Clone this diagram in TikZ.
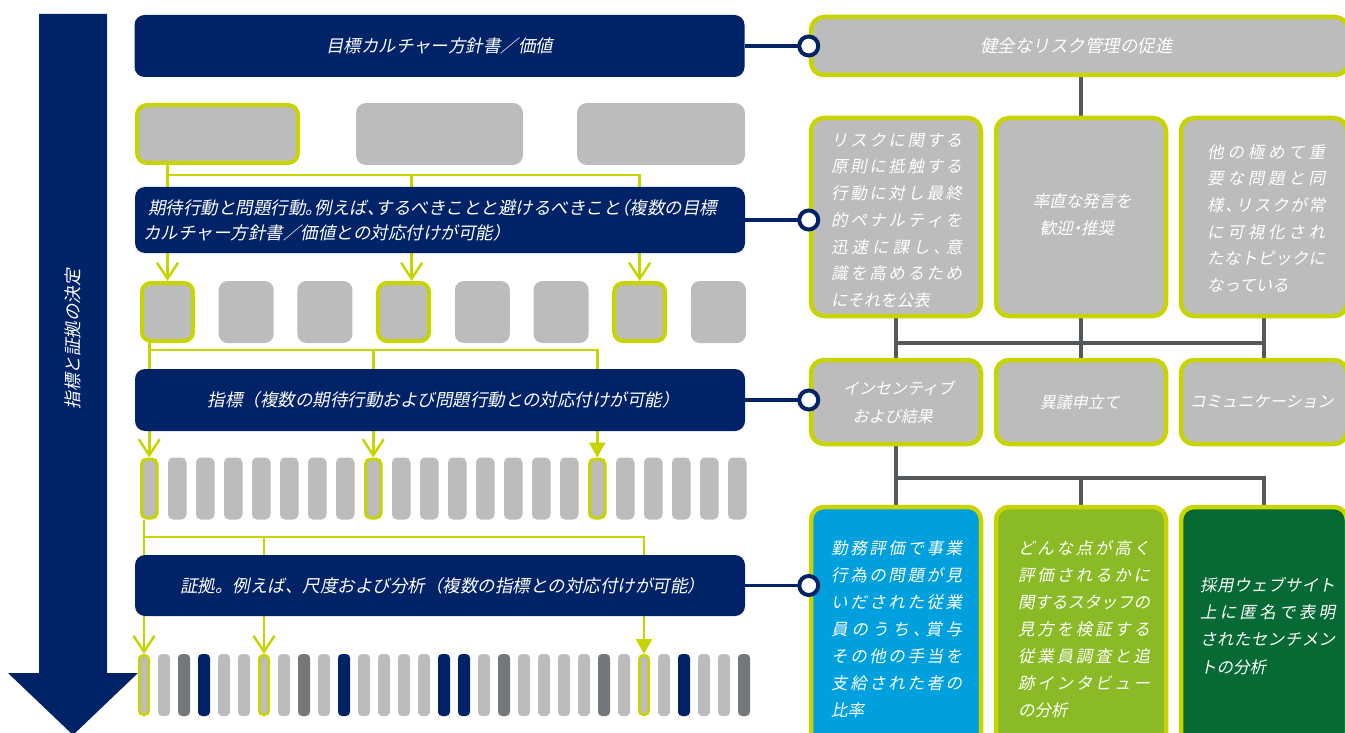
\documentclass[tikz,border=0pt]{standalone}
\usepackage{fontspec}
\newfontfamily\jp[RawFeature=+halt]{Noto Sans CJK JP}
\newfontfamily\jpfull{Noto Sans CJK JP}
\usetikzlibrary{arrows.meta,calc}
\definecolor{navy}{RGB}{0,34,102}
\definecolor{lgray}{RGB}{187,188,187}
\definecolor{ygreen}{RGB}{200,212,0}
\definecolor{dgray}{RGB}{117,120,123}
\definecolor{cgray}{RGB}{85,88,91}
\definecolor{cyanbox}{RGB}{0,160,222}
\definecolor{limebox}{RGB}{138,186,37}
\definecolor{greenbox}{RGB}{7,106,53}
\newcommand\jpA{\jp\fontsize{17.5}{25}\selectfont}
\newcommand\jpF{\jpfull\fontsize{17.5}{25}\selectfont}
\newcommand\jpR{\jp\fontsize{16.5}{26.7}\selectfont}
\newcommand\jpS{\jp\fontsize{16}{28}\selectfont}
\def\jspr#1{\jsprB#1\relax\relax}
\def\jsprB#1#2{#1\ifx\relax#2\else\hfil\expandafter\jsprB\expandafter#2\fi}
% #1 prefix, #2 x0, #3 first baseline, #4 line step, #5 width, #6 justified lines, #7 last line, #8 index of last line
\newcommand\jblock[8]{%
  \foreach \jl [count=\k from 0] in {#6}
    \node[sl, font=\jpR, anchor=base west] (#1\k) at ({#2},{#3+#4*\k}) {\hbox to #5{\expandafter\jspr\expandafter{\jl}}};
  \node[sl, font=\jpR, anchor=base west] (#1#8) at ({#2},{#3+#4*#8}) {#7};
}
\pgfdeclarelayer{bg}
\pgfsetlayers{bg,main}
\begin{document}
\begin{tikzpicture}[x=1pt,y=-1pt,
 navybox/.style={fill=navy, rounded corners=10pt, inner sep=0pt, minimum width=610pt},
 gbox/.style={fill=lgray, inner sep=0pt},
 hlb/.style={gbox, draw=ygreen, line width=#1},
 rbox/.style={draw=ygreen, line width=4.5pt, rounded corners=13pt, inner sep=0pt, fill=lgray},
 sl/.style={xslant=0.2, transform shape, inner sep=0pt, text=white},
 yl/.style={draw=ygreen, line width=2.5pt},
 oarr/.style={-{Straight Barb[length=16pt,width=21pt]}},
 farr/.style={-{Triangle[length=15pt,width=16pt]}},
 gl/.style={draw=cgray, line width=3.5pt},
 nl/.style={draw=navy, line width=3.5pt},
 ring/.style={circle, draw=navy, line width=4pt, fill=white, minimum size=19pt, inner sep=0pt}
]
\useasboundingbox (0,0) rectangle (1345,733);
\clip (0,0) rectangle (1345,733);

% big arrow
\fill[navy] (39,14) -- (107,14) -- (107,673) -- (138,673) -- (73,735) -- (8,673) -- (39,673) -- cycle;
\node[rotate=90, sl, font=\jpA] (vlab) at (73,338) {指標と証拠の決定};

% left column
\node[navybox, minimum height=62pt] (n1) at (439.5,46) {};
\node[hlb=4pt, rounded corners=10pt, minimum width=161pt, minimum height=58pt] (g1) at (217.5,134) {};
\node[gbox, rounded corners=10pt, minimum width=167pt, minimum height=62pt] (g2) at (439.5,134) {};
\node[gbox, rounded corners=10pt, minimum width=168pt, minimum height=62pt] (g3) at (661,134) {};
\node[navybox, minimum height=66pt] (n2) at (440,220) {};

\foreach \i in {1,2,4,5,7}
  \node[gbox, rounded corners=9pt, minimum width=55pt, minimum height=62pt] (sq\i) at ({167.5+78.7*\i},312) {};
\foreach \i in {0,3,6}
  \node[hlb=4pt, rounded corners=9pt, minimum width=51pt, minimum height=58pt] (sq\i) at ({167.5+78.7*\i},312) {};

\node[navybox, minimum height=62pt] (n3) at (440,400) {};

\foreach \i in {1,2,3,4,5,6,7,9,10,11,12,13,14,15,17,18,19,20,21}
  \node[gbox, rounded corners=5pt, minimum width=18.5pt, minimum height=62pt] (b\i) at ({149.25+28*\i},488.5) {};
\foreach \i in {0,8,16}
  \node[hlb=3pt, rounded corners=5pt, minimum width=15.5pt, minimum height=59pt] (b\i) at ({149.25+28*\i},488.5) {};

\node[navybox, minimum height=61pt] (n4) at (440,585.5) {};

\foreach \i in {1,4,5,7,9,11,12,13,14,17,19,20,21,22,24,26,28,29}
  \node[gbox, rounded corners=4pt, minimum width=12pt, minimum height=62pt] (e\i) at ({144+20*\i},685) {};
\foreach \i in {3,10,15,16,27}
  \node[gbox, fill=navy, rounded corners=4pt, minimum width=12pt, minimum height=62pt] (e\i) at ({144+20*\i},685) {};
\foreach \i in {2,8,18,23,30}
  \node[gbox, fill=dgray, rounded corners=4pt, minimum width=12pt, minimum height=62pt] (e\i) at ({144+20*\i},685) {};
\foreach \i in {0,6,25}
  \node[hlb=2.5pt, rounded corners=4pt, minimum width=9.5pt, minimum height=59.5pt] (e\i) at ({144+20*\i},685) {};

% left texts
\node[sl, font=\jpA] (n1t) at (441,46) {目標カルチャー方針書／価値};
\node[sl, font=\jpA, align=left, anchor=west] (n2t) at (147,220) {期待行動と問題行動。例えば、するべきことと避けるべきこと（複数の目標\\カルチャー方針書／価値との対応付けが可能）};
\node[sl, font=\jpF] (n3t) at (445,400) {指標（複数の期待行動および問題行動との対応付けが可能）};
\node[sl, font=\jpF] (n4t) at (444,585.5) {証拠。例えば、尺度および分析（複数の指標との対応付けが可能）};

% right column
\node[rbox, minimum width=537pt, minimum height=58pt] (rt) at (1079.5,46) {};
\node[rbox, minimum width=170pt, minimum height=198pt] (r2a) at (896,217) {};
\node[rbox, minimum width=170pt, minimum height=198pt] (r2b) at (1081,217) {};
\node[rbox, minimum width=166pt, minimum height=198pt] (r2c) at (1264,217) {};
\node[rbox, minimum width=170pt, minimum height=84pt] (r3a) at (896,402) {};
\node[rbox, minimum width=170pt, minimum height=84pt] (r3b) at (1081,402) {};
\node[rbox, minimum width=166pt, minimum height=84pt] (r3c) at (1264,402) {};
\node[rbox, fill=cyanbox, minimum width=170pt, minimum height=244pt] (r4a) at (896,629) {};
\node[rbox, fill=limebox, minimum width=170pt, minimum height=244pt] (r4b) at (1081,629) {};
\node[rbox, fill=greenbox, minimum width=166pt, minimum height=244pt] (r4c) at (1264,629) {};

% right texts
\node[sl, font=\jpA] (rtt) at (1078,46) {健全なリスク管理の促進};
\jblock{r2aL}{831}{146.3}{26.7}{131pt}{リスクに関する,原則に抵触する,行動に対し最終,的ペナルティを,迅速に課し、意,識を高めるため}{にそれを公表}{6}
\node[sl, font=\jpR, align=center] (r2bt) at (1081,215) {率直な発言を\\歓迎・推奨};
\jblock{r2cL}{1207}{158.3}{26.6}{118pt}{他の極めて重,要な問題と同,様、リスクが常,に可視化され,たなトピックに}{なっている}{5}
\node[sl, font=\jpS, align=center] (r3at) at (897,402) {インセンティブ\\および結果};
\node[sl, font=\jpS] (r3bt) at (1081,402) {異議申立て};
\node[sl, font=\jpS] (r3ct) at (1263,402) {コミュニケーション};
\jblock{r4aL}{831}{554.3}{27}{131pt}{勤務評価で事業,行為の問題が見,いだされた従業,員のうち、賞与,その他の手当を,支給された者の}{比率}{6}
\jblock{r4bL}{1018}{554.3}{27}{132pt}{どんな点が高く,評価されるかに,関するスタッフの,見方を検証する,従業員調査と追,跡インタビュー}{の分析}{6}
\jblock{r4cL}{1200}{591.3}{27.3}{135pt}{採用ウェブサイト,上に匿名で表明,されたセンチメン}{トの分析}{3}

% helper coordinates
\coordinate (y175) at (0,175);
\coordinate (y350) at (0,350);
\coordinate (y537) at (0,537);
\coordinate (y343) at (0,343);
\coordinate (y478) at (0,478);
\coordinate (a3) at ($(sq3.north)+(8,0)$);

\begin{pgfonlayer}{bg}
% yellow connectors
\draw[yl, oarr] (sq0.north |- g1.south) -- (sq0.north);
\draw[yl, oarr] (sq0.north |- y175) -| (sq6.north);
\draw[yl, oarr] (a3 |- y175) -- (a3);
\draw[yl, oarr] (b0.north |- sq0.south) -- (b0.north);
\draw[yl, farr] (b0.north |- y350) -| (b16.north);
\draw[yl, oarr] (b8.north |- y350) -- (b8.north);
\draw[yl, oarr] (e0.north |- b0.south) -- (e0.north);
\draw[yl, farr] (e0.north |- y537) -| (e25.north);
\draw[yl, oarr] (e6.north |- y537) -- (e6.north);
% gray connectors
\draw[gl] (r2b.north |- rt.south) -- (r2b.north);
\draw[gl] (r2a.south) -- (r3a.north);
\draw[gl] (r2b.south) -- (r3b.north);
\draw[gl] (r2c.south) -- (r3c.north);
\draw[gl] (r2a.south |- y343) -- (r2c.south |- y343);
\draw[gl] (r3a.south) -- (r4a.north);
\draw[gl] (r3a.south |- y478) -| (r4c.north);
\draw[gl] (r4b.north |- y478) -- (r4b.north);
\end{pgfonlayer}

% navy connectors with rings
\draw[nl] (n1.east) -- (rt.west) node[ring] (c1) {};
\draw[nl] (n2.east) -- (n2.east -| r2a.west) node[ring] (c2) {};
\draw[nl] (n3.east) -- (n3.east -| r3a.west) node[ring] (c3) {};
\draw[nl] (n4.east) -- (n4.east -| r4a.west) node[ring] (c4) {};
\end{tikzpicture}
\end{document}
